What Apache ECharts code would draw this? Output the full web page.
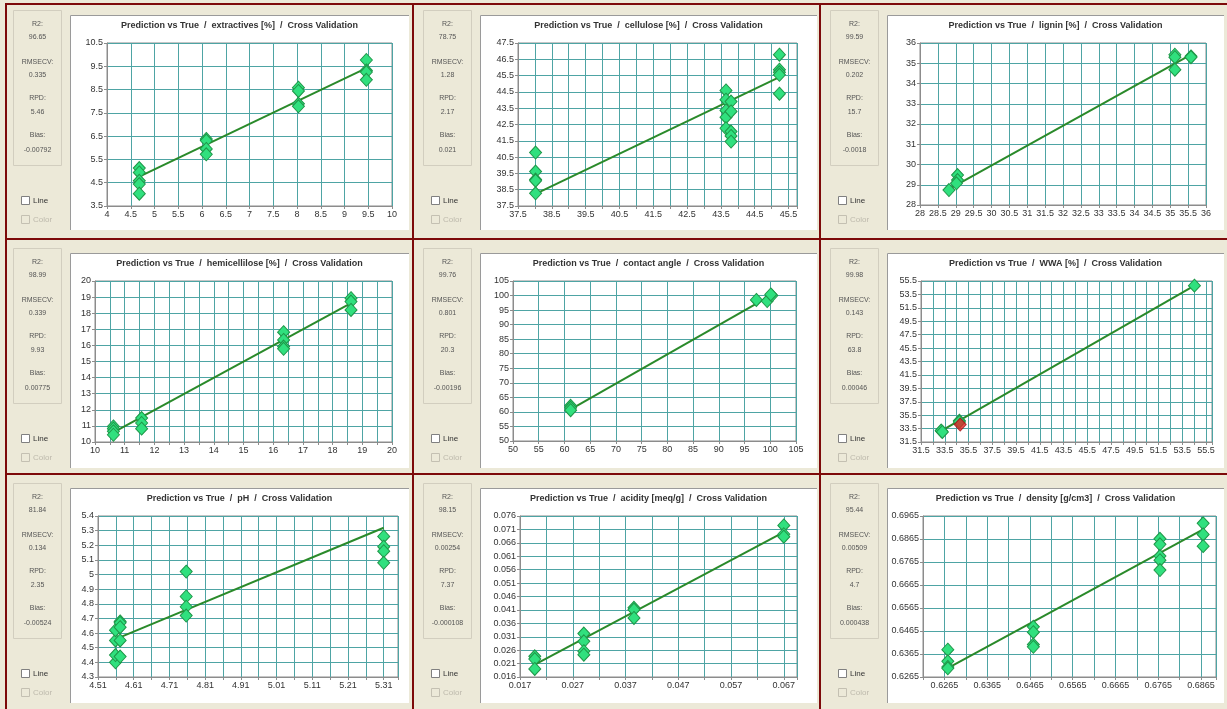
<!DOCTYPE html>
<html><head><meta charset="utf-8">
<script src="https://cdn.jsdelivr.net/npm/echarts@6/dist/echarts.min.js"></script>
<style>html,body{margin:0;padding:0;background:#ece9d8}#c{width:1227px;height:709px}</style>
</head><body><div id="c"></div>
<script>
// ---------- DATA ----------
const propNames = ['extractives [%]', 'cellulose [%]', 'lignin [%]', 'hemicellilose [%]', 'contact angle', 'WWA [%]', 'pH', 'acidity [meq/g]', 'density [g/cm3]'];
const statR2 = ['96.65', '78.75', '99.59', '98.99', '99.76', '99.98', '81.84', '98.15', '95.44'];
const statRMSECV = ['0.335', '1.28', '0.202', '0.339', '0.801', '0.143', '0.134', '0.00254', '0.00509'];
const statRPD = ['5.46', '2.17', '15.7', '9.93', '20.3', '63.8', '2.35', '7.37', '4.7'];
const statBias = ['-0.00792', '0.021', '-0.0018', '0.00775', '-0.00196', '0.00046', '-0.00524', '-0.000108', '0.000438'];

const extractivesPts = [[4.68,5.13],[4.68,4.94],[4.68,4.58],[4.68,4.44],[4.68,4.03],[6.09,6.38],[6.09,6.31],[6.09,5.95],[6.09,5.72],[8.03,8.58],[8.03,8.44],[8.03,7.89],[8.03,7.78],[9.46,9.77],[9.46,9.32],[9.46,9.25],[9.46,8.92]];
const extractivesFit = [[4.68,4.76],[9.46,9.42]];
const cellulosePts = [[38.02,40.78],[38.02,39.61],[38.02,39.12],[38.02,39.05],[38.02,38.28],[43.65,44.59],[43.65,44.02],[43.65,43.36],[43.65,42.95],[43.65,42.27],[43.8,43.91],[43.8,43.3],[43.8,42.07],[43.8,41.8],[43.8,41.45],[45.23,46.78],[45.23,45.86],[45.23,45.7],[45.23,45.55],[45.23,44.39]];
const celluloseFit = [[38.02,38.24],[45.23,45.41]];
const ligninPts = [[28.81,28.74],[29.05,29.48],[29.05,29.23],[29.02,29.07],[35.13,35.42],[35.13,35.3],[35.13,34.68],[35.58,35.34],[35.58,35.3]];
const ligninFit = [[28.81,28.78],[35.58,35.42]];
const hemiPts = [[10.62,10.97],[10.62,10.83],[10.62,10.66],[10.62,10.45],[11.57,11.49],[11.57,11.18],[11.57,10.83],[16.35,16.82],[16.35,16.34],[16.35,15.93],[16.35,15.79],[18.62,18.93],[18.62,18.72],[18.62,18.2]];
const hemiFit = [[10.62,10.6],[18.62,18.62]];
const anglePts = [[61.2,62.1],[61.2,61.4],[61.2,60.6],[97.3,98.5],[99.4,98.1],[100.3,100.0],[100.1,100.4]];
const angleFit = [[61.2,60.9],[100.3,100.2]];
const wwaPts = [[33.24,33.09],[33.2,33.2],[33.3,33.0],[34.73,34.68],[34.73,34.5],[54.52,54.81]];
const wwaRedPts = [[34.8,34.1]];
const wwaFit = [[33.24,33.19],[54.52,54.8]];
const phPts = [[4.559,4.40],[4.559,4.45],[4.559,4.55],[4.559,4.62],[4.572,4.68],[4.572,4.67],[4.572,4.64],[4.572,4.55],[4.572,4.44],[4.757,5.02],[4.757,4.85],[4.757,4.78],[4.757,4.72],[5.31,5.26],[5.31,5.19],[5.31,5.16],[5.31,5.08]];
const phFit = [[4.561,4.56],[5.31,5.32]];
const acidityPts = [[0.0198,0.0237],[0.0198,0.0227],[0.0198,0.0190],[0.0291,0.0322],[0.0291,0.0293],[0.0291,0.0256],[0.0291,0.0243],[0.0386,0.0418],[0.0386,0.0411],[0.0386,0.0380],[0.067,0.0725],[0.067,0.0692],[0.067,0.0683]];
const acidityFit = [[0.0198,0.0206],[0.067,0.0700]];
const densityPts = [[0.6273,0.6384],[0.6273,0.6333],[0.6273,0.6309],[0.6273,0.6303],[0.6473,0.6483],[0.6473,0.6460],[0.6473,0.6406],[0.6473,0.6396],[0.6769,0.6866],[0.6769,0.6842],[0.6769,0.6791],[0.6769,0.6773],[0.6769,0.6730],[0.6870,0.6933],[0.6870,0.6885],[0.6870,0.6834]];
const densityFit = [[0.6273,0.6304],[0.6870,0.6907]];

const allPts = [extractivesPts, cellulosePts, ligninPts, hemiPts, anglePts, wwaPts, phPts, acidityPts, densityPts];
const allFits = [extractivesFit, celluloseFit, ligninFit, hemiFit, angleFit, wwaFit, phFit, acidityFit, densityFit];

// x axis: [min, max, gridStep, labelStep, labelBase]
const xTicks = [[4,10,0.5,0.5,4],[37.5,45.75,0.5,1,37.5],[28,36,0.5,0.5,28],[10,20,0.5,1,10],[50,105,5,5,50],[31.5,56,1,2,31.5],[4.51,5.35,0.05,0.1,4.51],[0.017,0.0695,0.005,0.01,0.017],[0.6215,0.69,0.005,0.01,0.6265]];
// y axis: [min, max, step]
const yTicks = [[3.5,10.5,1],[37.5,47.5,1],[28,36,1],[10,20,1],[50,105,5],[31.5,55.5,2],[4.3,5.4,0.1],[0.016,0.076,0.005],[0.6265,0.6965,0.01]];

// ---------- LAYOUT ----------
const cellX = [3, 413, 820];
const cellY = [0, 238, 473];
const panelRight = [409, 817, 1224];
// plot boxes: [left, right, top, bottom]
const plotBox = [[107,392,43,206],[518,797,43,206],[920,1206,43,205],[95,392,281,442],[513,796,281,441],[921,1212,281,442],[98,398,516,677],[520,797,516,677],[923,1216,516,677]];

const FONT = 'Liberation Sans';
const GRIDC = '#4ea4a4';
const grids = [], xAxes = [], yAxes = [], series = [], graphics = [];

graphics.push({type:'rect', z:-20, shape:{x:0,y:0,width:1227,height:709}, style:{fill:'#ece9d8'}, silent:true});

for (let i = 0; i < 9; i++) {
  const col = i % 3, row = Math.floor(i / 3);
  const cx = cellX[col], cy = cellY[row];
  const b = plotBox[i];
  // white panel
  graphics.push({type:'rect', z:-10, shape:{x:cx+67, y:cy+15, width:panelRight[col]-(cx+67), height:215}, style:{fill:'#ffffff', stroke:null}, silent:true});
  graphics.push({type:'polyline', z:-9, shape:{points:[[cx+67.5, cy+230],[cx+67.5, cy+15.5],[panelRight[col], cy+15.5]]}, style:{stroke:'#9a9a9a', lineWidth:1, fill:null}, silent:true});
  // stats box
  graphics.push({type:'rect', z:-10, shape:{x:cx+10.5, y:cy+10.5, width:48, height:155}, style:{fill:'#ece9d8', stroke:'#d2cebf', lineWidth:1}, silent:true});
  const stx = cx + 34.5;
  const lines = [['R2:',24],[statR2[i],37],['RMSECV:',62],[statRMSECV[i],75],['RPD:',98],[statRPD[i],112],['Bias:',135],[statBias[i],150]];
  lines.forEach(([t, y]) => graphics.push({type:'text', z:5, style:{x:stx, y:cy+y, text:t, fill:'#555', font:'7px ' + FONT, textAlign:'center', textVerticalAlign:'middle'}, silent:true}));
  // checkboxes
  graphics.push({type:'rect', z:5, shape:{x:cx+18.5, y:cy+196.5, width:8, height:8}, style:{fill:'#ffffff', stroke:'#808080', lineWidth:1}, silent:true});
  graphics.push({type:'text', z:5, style:{x:cx+30, y:cy+201, text:'Line', fill:'#333', font:'8px ' + FONT, textVerticalAlign:'middle'}, silent:true});
  graphics.push({type:'rect', z:5, shape:{x:cx+18.5, y:cy+215.5, width:8, height:8}, style:{fill:'#ece9d8', stroke:'#c4c0b2', lineWidth:1}, silent:true});
  graphics.push({type:'text', z:5, style:{x:cx+30, y:cy+220, text:'Color', fill:'#bdb9ac', font:'8px ' + FONT, textVerticalAlign:'middle'}, silent:true});
  // title
  graphics.push({type:'text', z:5, style:{x:(cx+67+panelRight[col])/2, y:cy+26, text:'Prediction vs True  /  ' + propNames[i] + '  /  Cross Validation', fill:'#333', font:'bold 9px ' + FONT, textAlign:'center', textVerticalAlign:'middle'}, silent:true});

  grids.push({left:b[0], top:b[2], width:b[1]-b[0], height:b[3]-b[2], show:true, backgroundColor:'#ffffff', borderColor:'#8c8c8c', borderWidth:1});
  const xt = xTicks[i];
  xAxes.push({
    gridIndex:i, type:'value', min:xt[0], max:xt[1], interval:xt[2],
    axisLine:{show:true, onZero:false, lineStyle:{color:'#8c8c8c'}},
    axisTick:{show:true, length:3, lineStyle:{color:'#8c8c8c'}},
    axisLabel:{fontSize:9, color:'#333', fontFamily:FONT, margin:4, showMinLabel:true, showMaxLabel:true,
      formatter:function(v){ const k=(v-xt[4])/xt[3]; if (Math.abs(k-Math.round(k))>1e-4 || k < -1e-4) return ''; return String(+v.toFixed(6)); }},
    splitLine:{show:true, lineStyle:{color:GRIDC, width:1}}
  });
  const yt = yTicks[i];
  yAxes.push({
    gridIndex:i, type:'value', min:yt[0], max:yt[1], interval:yt[2],
    axisLine:{show:true, onZero:false, lineStyle:{color:'#8c8c8c'}},
    axisTick:{show:true, length:3, lineStyle:{color:'#8c8c8c'}},
    axisLabel:{fontSize:9, color:'#333', fontFamily:FONT, margin:4, formatter:function(v){ return String(+v.toFixed(6)); }},
    splitLine:{show:true, lineStyle:{color:GRIDC, width:1}}
  });
  series.push({type:'line', xAxisIndex:i, yAxisIndex:i, data:allFits[i], symbol:'none', silent:true, z:2,
    lineStyle:{color:'#2a8a2a', width:2}});
  series.push({type:'scatter', xAxisIndex:i, yAxisIndex:i, data:allPts[i], symbol:'diamond', symbolSize:[12,13], z:3, silent:true,
    itemStyle:{color:'#30e07e', borderColor:'#1f9648', borderWidth:1, opacity:1}});
  if (i === 5) {
    series.push({type:'scatter', xAxisIndex:i, yAxisIndex:i, data:wwaRedPts, symbol:'diamond', symbolSize:[12,13], z:4, silent:true,
      itemStyle:{color:'#e02424', borderColor:'#a01010', borderWidth:1}});
  }
}

// dark red separators
const RED = '#7d0a0a';
[[5,3,2,706],[412,3,2,706],[819,3,2,706]].forEach(r => graphics.push({type:'rect', z:20, shape:{x:r[0],y:r[1],width:r[2],height:r[3]}, style:{fill:RED}, silent:true}));
[[5,3,1222,2],[5,238,1222,2],[5,473,1222,2]].forEach(r => graphics.push({type:'rect', z:20, shape:{x:r[0],y:r[1],width:r[2],height:r[3]}, style:{fill:RED}, silent:true}));

const chart = echarts.init(document.getElementById('c'), null, {renderer:'canvas'});
chart.setOption({
  animation:false,
  backgroundColor:'#ece9d8',
  grid:grids, xAxis:xAxes, yAxis:yAxes, series:series,
  graphic:{elements:graphics}
});
</script></body></html>
